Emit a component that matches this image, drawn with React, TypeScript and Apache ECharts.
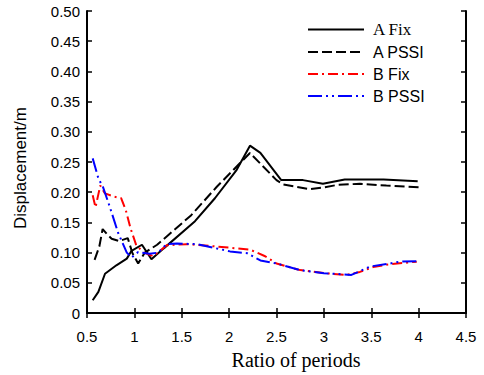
import React, { useEffect, useRef } from "react";
import * as echarts from "echarts";

const seriesNames = ["A Fix", "A PSSI", "B Fix", "B PSSI"];

const aFix: number[][] = [
  [0.56, 0.021], [0.62, 0.035], [0.69, 0.065], [0.81, 0.079], [0.92, 0.09],
  [0.97, 0.103], [1.08, 0.113], [1.18, 0.089], [1.31, 0.107], [1.64, 0.152],
  [1.85, 0.19], [2.08, 0.237], [2.22, 0.277], [2.33, 0.265], [2.55, 0.22],
  [2.78, 0.22], [2.99, 0.214], [3.22, 0.221], [3.63, 0.221], [3.99, 0.218],
];

const aPssi: number[][] = [
  [0.58, 0.088], [0.63, 0.11], [0.665, 0.139], [0.72, 0.129], [0.76, 0.123],
  [0.84, 0.119], [0.93, 0.124], [0.98, 0.099], [1.04, 0.082], [1.11, 0.1],
  [1.24, 0.113], [1.38, 0.132], [1.6, 0.162], [1.87, 0.209], [2.22, 0.265],
  [2.5, 0.22], [2.57, 0.213], [2.85, 0.205], [3.0, 0.208], [3.14, 0.212],
  [3.38, 0.214], [3.66, 0.211], [4.0, 0.208],
];

const bFix: number[][] = [
  [0.56, 0.195], [0.59, 0.175], [0.64, 0.211], [0.69, 0.198], [0.78, 0.193],
  [0.86, 0.19], [0.91, 0.17], [0.96, 0.14], [1.02, 0.112], [1.1, 0.1],
  [1.2, 0.094], [1.34, 0.112], [1.55, 0.114], [1.8, 0.111], [2.08, 0.107],
  [2.22, 0.105], [2.38, 0.094], [2.5, 0.082], [2.75, 0.071], [3.0, 0.066],
  [3.24, 0.063], [3.38, 0.068], [3.52, 0.076], [3.66, 0.08], [3.98, 0.085],
];

const bPssi: number[][] = [
  [0.56, 0.256], [0.62, 0.223], [0.67, 0.208], [0.74, 0.176], [0.83, 0.132],
  [0.87, 0.118], [0.92, 0.1], [0.97, 0.092], [1.04, 0.101], [1.16, 0.098],
  [1.25, 0.1], [1.34, 0.114], [1.45, 0.115], [1.66, 0.114], [2.01, 0.102],
  [2.19, 0.099], [2.33, 0.087], [2.5, 0.082], [2.75, 0.071], [3.0, 0.066],
  [3.29, 0.063], [3.49, 0.077], [3.7, 0.082], [3.8, 0.085], [4.0, 0.086],
];

const xAxisTitle = "Ratio of periods";
const yAxisTitle = "Displacement/m";

const SANS = "Liberation Sans, Arial, sans-serif";
const SERIF = "Liberation Serif, Times New Roman, serif";

export default function App() {
  const ref = useRef<HTMLDivElement>(null);
  useEffect(() => {
    if (!ref.current) return;
    const chart = echarts.init(ref.current, undefined, { renderer: "svg" });
    const axisLine = { show: true, lineStyle: { color: "#000", width: 2 } };
    const tick = { show: true, inside: true, length: 5, lineStyle: { color: "#000", width: 1.5 } };
    const mk = (name: string, data: number[][], color: string, type: any) => ({
      name,
      type: "line",
      data,
      symbol: "none",
      xAxisIndex: 0,
      yAxisIndex: 0,
      lineStyle: { color, width: 2, type },
      itemStyle: { color },
    });
    chart.setOption({
      animation: false,
      grid: { left: 87, right: 18, top: 11, bottom: 62 },
      legend: {
        data: seriesNames,
        orient: "vertical",
        left: 302,
        top: 16,
        itemWidth: 56,
        itemHeight: 14,
        itemGap: 6,
        itemStyle: { opacity: 0 },
        formatter: (n: string) => (n === "A Fix" ? `{s|${n}}` : `{n|${n}}`),
        textStyle: {
          color: "#000",
          fontSize: 16,
          padding: [0, 0, 0, 4],
          rich: {
            s: { fontFamily: SERIF, fontSize: 17, color: "#000" },
            n: { fontFamily: SANS, fontSize: 16, color: "#000" },
          },
        },
      },
      graphic: [
        {
          type: "text",
          x: 296,
          y: 360,
          style: {
            text: xAxisTitle,
            fontFamily: SERIF,
            fontSize: 20,
            fill: "#000",
            align: "center",
            verticalAlign: "middle",
          },
        },
        {
          type: "text",
          x: 20,
          y: 168,
          rotation: Math.PI / 2,
          style: {
            text: yAxisTitle,
            fontFamily: SANS,
            fontSize: 17,
            fill: "#000",
            align: "center",
            verticalAlign: "middle",
          },
        },
      ],
      xAxis: [
        {
          type: "value",
          min: 0.5,
          max: 4.5,
          interval: 0.5,
          position: "bottom",
          axisLine,
          axisTick: tick,
          splitLine: { show: false },
          axisLabel: { color: "#000", fontFamily: SANS, fontSize: 15, margin: 16 },
        },
        {
          type: "value",
          min: 0.5,
          max: 4.5,
          interval: 0.5,
          position: "top",
          axisLine,
          axisTick: tick,
          splitLine: { show: false },
          axisLabel: { show: false },
        },
      ],
      yAxis: [
        {
          type: "value",
          min: 0,
          max: 0.5,
          interval: 0.05,
          position: "left",
          axisLine,
          axisTick: tick,
          splitLine: { show: false },
          axisLabel: {
            color: "#000",
            fontFamily: SANS,
            fontSize: 15,
            margin: 7,
            formatter: (v: number) => (Math.abs(v) < 1e-9 ? "0" : v.toFixed(2)),
          },
        },
        {
          type: "value",
          min: 0,
          max: 0.5,
          interval: 0.05,
          position: "right",
          axisLine,
          axisTick: tick,
          splitLine: { show: false },
          axisLabel: { show: false },
        },
      ],
      series: [
        mk("A Fix", aFix, "#000000", "solid"),
        mk("A PSSI", aPssi, "#000000", [10, 4]),
        mk("B Fix", bFix, "#ff0000", [10, 4, 2, 4]),
        mk("B PSSI", bPssi, "#0000ff", [14, 4, 2, 4, 2, 4]),
      ],
    });
    return () => chart.dispose();
  }, []);
  return <div ref={ref} style={{ width: 484, height: 375, position: "absolute", left: 0, top: 0 }} />;
}
